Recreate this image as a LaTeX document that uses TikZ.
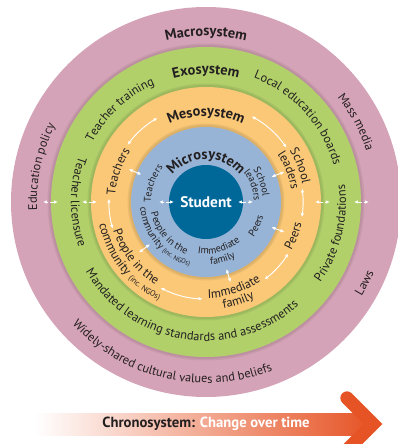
\documentclass[tikz,border=0pt]{standalone}
\usepackage{fontspec}
\setmainfont{PT Sans}
\usetikzlibrary{decorations.text, arrows.meta}

\definecolor{macro}{RGB}{213,163,183}
\definecolor{exo}{RGB}{177,208,106}
\definecolor{meso}{RGB}{250,200,118}
\definecolor{micro}{RGB}{151,180,214}
\definecolor{student}{RGB}{0,103,153}
\definecolor{chrono}{RGB}{230,84,38}
\definecolor{ink}{RGB}{35,31,32}

\newcommand{\fs}[1]{\fontsize{#1}{#1}\selectfont}
% text on an arc: angle, baseline radius, text
\newcommand{\cwtext}[3]{\path[decorate, decoration={text along path, text align=center, text color=ink, text={#3}}] ({#1+80}:#2) arc[start angle={#1+80}, end angle={#1-80}, radius=#2];}
\newcommand{\ccwtext}[3]{\path[decorate, decoration={text along path, text align=center, text color=ink, text={#3}}] ({#1-80}:#2) arc[start angle={#1-80}, end angle={#1+80}, radius=#2];}

\tikzset{
  edge/.style={black, opacity=0.06},
  arclink/.style={white, line width=0.7pt, {Latex[length=3pt,width=2.6pt]}-{Latex[length=3pt,width=2.6pt]}},
  dashlink/.style={arclink, dash pattern=on 3pt off 1.5pt},
}

\begin{document}
\begin{tikzpicture}[x=0.75pt, y=0.75pt]
\useasboundingbox (-206,-242) rectangle (192,202);
\clip (-206,-242) rectangle (192,202);
\coordinate (c) at (0,0);

% rings
\fill[macro] (c) circle (195);
\fill[edge] (c) circle (158.5);
\fill[edge] (c) circle (157);
\fill[exo] (c) circle (155);
\fill[edge] (c) circle (118.5);
\fill[edge] (c) circle (117);
\fill[meso] (c) circle (115);
\fill[edge] (c) circle (78.5);
\fill[edge] (c) circle (77);
\fill[micro] (c) circle (75);
\node[circle, fill=student, minimum size=55.5pt, inner sep=0pt, text=white, font=\fs{11.5}\bfseries] (student) at (c) {Student};

% macrosystem
\cwtext{90}{166}{|\fs{10.8}\bfseries|Macrosystem}
\cwtext{28}{168}{|\fs{9.3}|Mass media}
\cwtext{168}{169}{|\fs{9.3}|Education policy}
\ccwtext{-27}{182}{|\fs{9.3}|Laws}
\ccwtext{-103}{181}{|\fs{9.3}|Widely-shared cultural values and beliefs}

% exosystem
\cwtext{90}{128}{|\fs{10.8}\bfseries|Exosystem}
\cwtext{133}{128}{|\fs{9.3}|Teacher training}
\cwtext{42.5}{133}{|\fs{9.3}|Local education boards}
\ccwtext{180}{135}{|\fs{9.3}|Teacher licensure}
\ccwtext{-14}{140}{|\fs{9.3}|Private foundations}
\ccwtext{-99}{139}{|\fs{9.3}|Mandated learning standards and assessments}

% mesosystem
\cwtext{90}{86}{|\fs{10.8}\bfseries|Mesosystem}
\cwtext{161}{91}{|\fs{9.3}|Teachers}
\cwtext{21}{98}{|\fs{9.3}|School}
\cwtext{21}{86}{|\fs{9.3}|leaders}
\ccwtext{-21}{98}{|\fs{9.3}|Peers}
\ccwtext{-72}{96}{|\fs{9.3}|Immediate}
\ccwtext{-72}{108}{|\fs{9.3}|family}
\ccwtext{218}{97}{|\fs{9.3}|People in the}
\ccwtext{218}{109}{|\fs{9.3}|community |\fs{6}|(inc. NGOs)}

% microsystem
\cwtext{90}{43}{|\fs{10.8}\bfseries|Microsystem}
\cwtext{161}{55}{|\fs{7.5}|Teachers}
\cwtext{20}{57}{|\fs{7.5}|School}
\cwtext{20}{48}{|\fs{7.5}|leaders}
\ccwtext{-25}{59}{|\fs{7.5}|Peers}
\ccwtext{-74}{52}{|\fs{7.5}|Immediate}
\ccwtext{-74}{63}{|\fs{7.5}|family}
\ccwtext{220}{56}{|\fs{7.5}|People in the}
\ccwtext{220}{66}{|\fs{7.5}|community |\fs{5}|(inc. NGOs)}

% links
\foreach \a/\b in {144/120, 62/34, 8/-9, -32/-53, 242/268, 178/196}
  \draw[arclink] (\a:97) arc[start angle=\a, end angle=\b, radius=97];
\foreach \a in {157, 21, -21, -73, 217} \draw[arclink] (\a:70) -- (\a:84);
\foreach \a in {0, 180}
  \foreach \r in {32, 109, 148} \draw[dashlink] (\a:\r) -- ({\a}:{\r+15});

% chronosystem
\shade[left color=white, right color=chrono] (-171,-211) rectangle (165,-233);
\draw[chrono, line width=10pt, line cap=round, line join=miter] (141,-196) -- (167,-222) -- (141,-248);
\node[font=\fs{11}\bfseries] (chronotext) at (0,-222) {\color{ink}Chronosystem: \color{white}Change over time};
\end{tikzpicture}
\end{document}
